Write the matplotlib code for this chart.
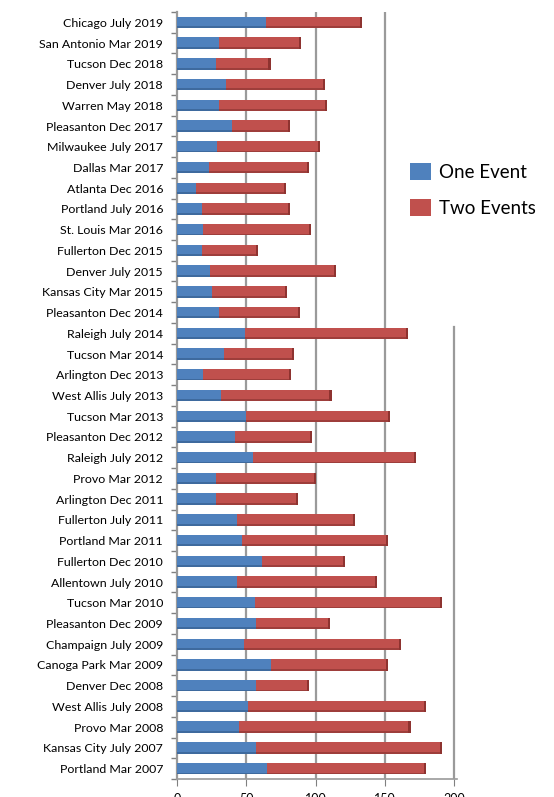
import matplotlib
matplotlib.use("Agg")
import matplotlib.pyplot as plt
import numpy as np

plt.rcParams['font.family'] = ['Lato', 'DejaVu Sans']

# events, top to bottom as in the picture
events = [
    "Chicago July 2019", "San Antonio Mar 2019", "Tucson Dec 2018", "Denver July 2018",
    "Warren May 2018", "Pleasanton Dec 2017", "Milwaukee July 2017", "Dallas Mar 2017",
    "Atlanta Dec 2016", "Portland July 2016", "St. Louis Mar 2016", "Fullerton Dec 2015",
    "Denver July 2015", "Kansas City Mar 2015", "Pleasanton Dec 2014", "Raleigh July 2014",
    "Tucson Mar 2014", "Arlington Dec 2013", "West Allis July 2013", "Tucson Mar 2013",
    "Pleasanton Dec 2012", "Raleigh July 2012", "Provo Mar 2012", "Arlington Dec 2011",
    "Fullerton July 2011", "Portland Mar 2011", "Fullerton Dec 2010", "Allentown July 2010",
    "Tucson Mar 2010", "Pleasanton Dec 2009", "Champaign July 2009", "Canoga Park Mar 2009",
    "Denver Dec 2008", "West Allis July 2008", "Provo Mar 2008", "Kansas City July 2007",
    "Portland Mar 2007",
]
one_event = [64, 30, 28, 35, 30, 40, 29, 23, 14, 18, 19, 18, 24, 25, 30, 49, 34, 19, 32, 50,
             42, 55, 28, 28, 43, 47, 61, 43, 56, 57, 48, 68, 57, 51, 45, 57, 65]
total = [132, 88, 66, 105, 107, 80, 102, 94, 77, 80, 95, 57, 113, 78, 87, 165, 83, 81, 110, 152,
         96, 171, 99, 86, 127, 151, 120, 143, 190, 109, 160, 151, 94, 178, 167, 190, 178]
two_events = [t - o for t, o in zip(total, one_event)]
x_ticks = [0, 50, 100, 150, 200]

blue = "#4F81BD"
red = "#C0504D"

fig = plt.figure(figsize=(5.54, 7.97), dpi=100)
ax = fig.add_axes([177 / 554, 1 - 779 / 797, 280 / 554, 767 / 797])

n = len(events)
y = np.arange(n)[::-1]
h = 0.55

ax.barh(y, one_event, height=h, color=blue, zorder=3, label="One Event")
ax.barh(y, two_events, left=one_event, height=h, color=red, zorder=3, label="Two Events")
# darker end cap and bottom edge for the 3D look
ax.barh(y, [1.5] * n, left=total, height=h, color="#8E3330", zorder=3)
ax.barh(y - h * 0.42, one_event, height=h * 0.16, color="#3E6A9E", zorder=4)
ax.barh(y - h * 0.42, two_events, left=one_event, height=h * 0.16, color="#9E3E3B", zorder=4)

ax.set_ylim(-0.5, n - 0.5)
ax.set_xlim(0, 202)
ax.set_yticks(y)
ax.set_yticklabels(events, fontsize=8.9)
ax.set_yticks(np.arange(n + 1) - 0.5, minor=True)
ax.tick_params(axis="y", which="major", length=0, pad=10)
ax.tick_params(axis="y", which="minor", length=4, color="#808080", width=1)
ax.set_xticks(x_ticks)
ax.set_xticklabels([str(v) for v in x_ticks], fontsize=9)
ax.tick_params(axis="x", length=5, color="#808080", pad=5)

for v in x_ticks[1:4]:
    ax.axvline(v, color="#9a9a9a", lw=1.6, zorder=1)
ax.axvline(200, ymin=0, ymax=(779 - 327) / 767, color="#9a9a9a", lw=1.6, zorder=1)

for s in ["top", "right"]:
    ax.spines[s].set_visible(False)
ax.spines["left"].set_color("#9a9a9a")
ax.spines["left"].set_linewidth(1.6)
ax.spines["bottom"].set_color("#9a9a9a")
ax.spines["bottom"].set_linewidth(1.2)

handles, labels = ax.get_legend_handles_labels()
fig.legend(handles[:2], labels[:2], loc="upper left", bbox_to_anchor=(393 / 554, 1 - 146 / 797),
           frameon=False, fontsize=13.5, handlelength=1.1, handleheight=1.0,
           handletextpad=0.45, labelspacing=1.0)

fig.savefig("out.png", dpi=100)
